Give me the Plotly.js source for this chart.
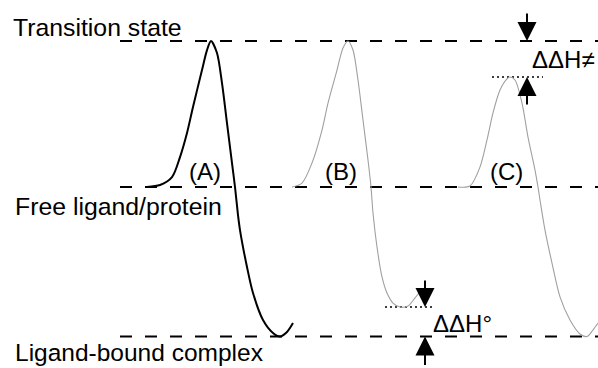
<!DOCTYPE html>
<html>
<head>
<meta charset="utf-8">
<script src="https://cdn.plot.ly/plotly-3.0.1.min.js"></script>
<style>html,body{margin:0;padding:0;background:#fff;}#chart{width:598px;height:368px;}</style>
</head>
<body>
<div id="chart"></div>
<script>
// Energy levels (arbitrary units: free = 0, transition state = 100)
const levelNames = ["Transition state", "Free ligand/protein", "Ligand-bound complex"];
const levelEnergy = [100, 0, -102.4];
const levelStartX = 120;
const levelEndX = 598;

// Reaction-coordinate profiles
const pathA_x = [147, 160, 172, 180, 187, 193, 202, 207, 211, 217, 222, 227, 232, 235, 238, 240, 247, 253, 263, 273, 280, 287, 293];
const pathA_E = [0, 1.4, 6.8, 20.5, 37.0, 54.8, 80.1, 93.8, 100, 91.8, 71.2, 43.8, 16.4, 0, -19.2, -29.5, -54.8, -72.6, -91.1, -100, -102.4, -99.3, -93.2];

const pathB_x = [292, 302, 312, 322, 328, 337, 343, 348, 353, 358, 363, 368, 371, 373, 377, 382, 387, 393, 400, 408, 415, 419];
const pathB_E = [0, 2.7, 16.4, 39.0, 57.5, 80.1, 95.2, 100, 93.8, 73.3, 45.9, 18.5, 0, -17.8, -41.1, -61.6, -72.6, -79.5, -82.2, -81.5, -76.0, -72.6];

const pathC_x = [458, 470, 480, 487, 493, 500, 507, 510, 515, 522, 528, 535, 538, 540, 545, 552, 560, 570, 580, 587, 593, 598];
const pathC_E = [0, 0.7, 13.7, 32.2, 50.7, 66.4, 74.0, 75.3, 73.3, 57.5, 34.2, 11.6, 0, -8.9, -29.5, -52.1, -75.3, -91.1, -100.7, -102.4, -97.9, -93.2];

const pathLabels = ["(A)", "(B)", "(C)"];
const pathLabelX = [205, 341, 506];
const pathLabelE = [10.3, 10.3, 10.3];

// Differences
const ddH_TS = {x: 527, top: 100, bottom: 75.3, label: "ΔΔH≠"};
const ddH_0 = {x: 425, top: -82.2, bottom: -102.4, label: "ΔΔH°"};
const dotTS_x = [492, 543];
const dot0_x = [385, 435];

const FONT = "Liberation Sans, Arial, Helvetica, sans-serif";
const FS = 24;
const traces = [];
levelEnergy.forEach(e => traces.push({
  x: [levelStartX, levelEndX], y: [e, e], mode: "lines",
  line: {color: "#000", width: 2, dash: "12px,13px"}, hoverinfo: "skip"
}));
traces.push({x: dotTS_x, y: [ddH_TS.bottom, ddH_TS.bottom], mode: "lines", line: {color: "#000", width: 1.5, dash: "2px,3px"}});
traces.push({x: dot0_x, y: [ddH_0.top, ddH_0.top], mode: "lines", line: {color: "#000", width: 1.5, dash: "2px,3px"}});
traces.push({x: pathA_x, y: pathA_E, mode: "lines", line: {color: "#000", width: 2, shape: "spline", smoothing: 0.8}});
traces.push({x: pathB_x, y: pathB_E, mode: "lines", line: {color: "#a0a0a0", width: 1.1, shape: "spline", smoothing: 0.8}});
traces.push({x: pathC_x, y: pathC_E, mode: "lines", line: {color: "#a0a0a0", width: 1.1, shape: "spline", smoothing: 0.8}});

const pxToE = p => (187 - p) / 1.46;
const annotations = [];
const txt = (text, x, y, xanchor, yanchor, size) => ({text, x, y, xref: "x", yref: "y", xanchor, yanchor: yanchor || "middle", showarrow: false, font: {family: FONT, size: size || FS, color: "#000"}});
annotations.push(txt(levelNames[0], 11, pxToE(27), "left", "middle", 24.8));
annotations.push(txt(levelNames[1], 13, pxToE(206), "left", "middle", 24.8));
annotations.push(txt(levelNames[2], 13, pxToE(368), "left", "bottom", 24.5));
pathLabels.forEach((t, i) => annotations.push(txt(t, pathLabelX[i], pathLabelE[i], "center")));
annotations.push(txt(ddH_TS.label, 530, pxToE(59), "left"));
annotations.push(txt(ddH_0.label, 431, pxToE(323), "left"));
const arrow = (x, tip, tail) => ({x, y: tip, ax: x, ay: tail, xref: "x", yref: "y", axref: "x", ayref: "y", text: "", showarrow: true, arrowhead: 2, arrowsize: 1.9, arrowwidth: 2, arrowcolor: "#000", standoff: 0, startstandoff: 0});
annotations.push(arrow(ddH_TS.x, ddH_TS.top, pxToE(12)));
annotations.push(arrow(ddH_TS.x, ddH_TS.bottom, pxToE(106)));
annotations.push(arrow(ddH_0.x, ddH_0.top, pxToE(279)));
annotations.push(arrow(ddH_0.x, ddH_0.bottom, -123));

Plotly.newPlot("chart", traces, {
  width: 598, height: 368, margin: {l: 0, r: 0, t: 0, b: 0},
  paper_bgcolor: "#fff", plot_bgcolor: "#fff", showlegend: false,
  xaxis: {range: [0, 598], visible: false, fixedrange: true},
  yaxis: {range: [pxToE(368), pxToE(0)], visible: false, fixedrange: true},
  annotations
}, {staticPlot: true, displayModeBar: false});
</script>
</body>
</html>
